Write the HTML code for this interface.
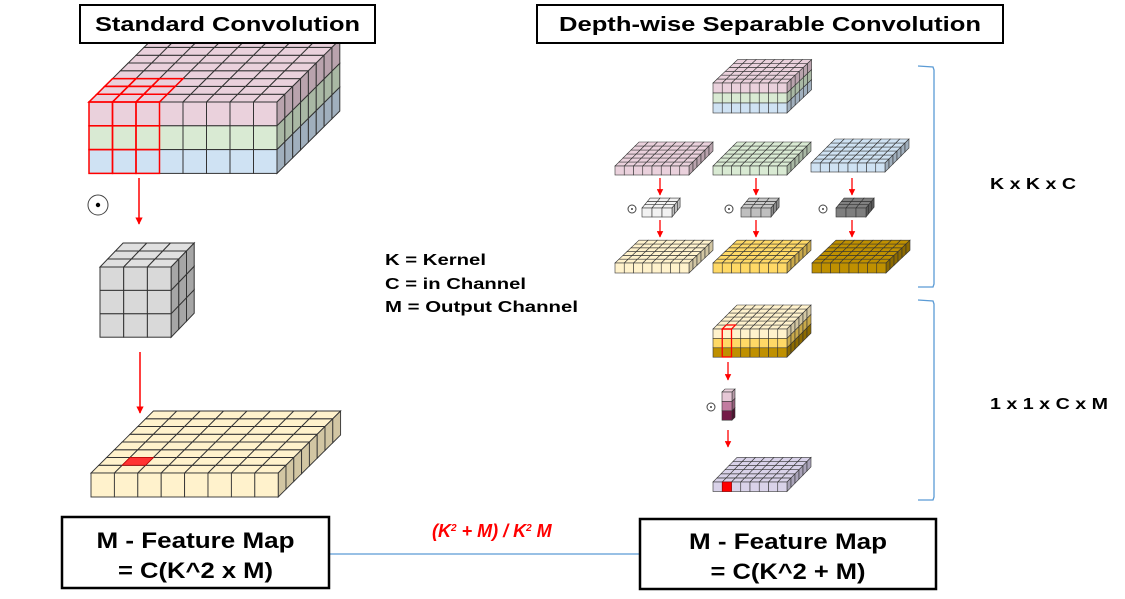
<!DOCTYPE html>
<html><head><meta charset="utf-8"><style>
html,body{margin:0;padding:0;background:#fff;}
svg{display:block;}
</style></head><body>
<svg id="s" width="1125" height="599" xmlns="http://www.w3.org/2000/svg" font-family="Liberation Sans, Arial, sans-serif">
<defs><marker id="ar" viewBox="0 0 10 10" refX="9" refY="5" markerWidth="5" markerHeight="5" orient="auto"><path d="M0,0 L10,5 L0,10 z" fill="#f00"/></marker></defs>
<g id="shapes"></g>
<rect x="80" y="5" width="295" height="38" fill="#fff" stroke="#000" stroke-width="2"/>
<text x="227.5" y="31" font-size="20" font-weight="bold" text-anchor="middle" textLength="265" lengthAdjust="spacingAndGlyphs">Standard Convolution</text>
<rect x="537" y="5" width="466" height="38" fill="#fff" stroke="#000" stroke-width="2"/>
<text x="770" y="31" font-size="20" font-weight="bold" text-anchor="middle" textLength="422" lengthAdjust="spacingAndGlyphs">Depth-wise Separable Convolution</text>
<text x="385" y="265" font-size="16" font-weight="bold" textLength="101" lengthAdjust="spacingAndGlyphs">K = Kernel</text>
<text x="385" y="289" font-size="16" font-weight="bold" textLength="141" lengthAdjust="spacingAndGlyphs">C = in Channel</text>
<text x="385" y="312" font-size="16" font-weight="bold" textLength="193" lengthAdjust="spacingAndGlyphs">M = Output Channel</text>
<path d="M918,66 L933,67 L934,70 L934,284 L933,287 L918,287" fill="none" stroke="#5b9bd5" stroke-width="1.3"/>
<path d="M918,300 L933,301 L934,304 L934,497 L933,500 L918,500" fill="none" stroke="#5b9bd5" stroke-width="1.3"/>
<text x="990" y="189" font-size="16" font-weight="bold" textLength="86" lengthAdjust="spacingAndGlyphs">K x K x C</text>
<text x="990" y="409" font-size="16" font-weight="bold" textLength="118" lengthAdjust="spacingAndGlyphs">1 x 1 x C x M</text>
<line x1="329" y1="554" x2="640" y2="554" stroke="#5b9bd5" stroke-width="1.3"/>
<rect x="62" y="517" width="267" height="71" fill="#fff" stroke="#000" stroke-width="2.5"/>
<text x="195.5" y="548" font-size="22" font-weight="bold" text-anchor="middle" textLength="198" lengthAdjust="spacingAndGlyphs">M - Feature Map</text>
<text x="195.5" y="578" font-size="22" font-weight="bold" text-anchor="middle" textLength="155" lengthAdjust="spacingAndGlyphs">= C(K^2 x M)</text>
<rect x="640" y="519" width="296" height="70" fill="#fff" stroke="#000" stroke-width="2.5"/>
<text x="788" y="549" font-size="22" font-weight="bold" text-anchor="middle" textLength="198" lengthAdjust="spacingAndGlyphs">M - Feature Map</text>
<text x="788" y="579" font-size="22" font-weight="bold" text-anchor="middle" textLength="155" lengthAdjust="spacingAndGlyphs">= C(K^2 + M)</text>
<text x="432" y="537" font-size="18" font-weight="bold" font-style="italic" fill="#f00">(K<tspan font-size="10" dy="-6">2</tspan><tspan dy="6"> + M) / K</tspan><tspan font-size="10" dy="-6">2</tspan><tspan dy="6"> M</tspan></text>
</svg>
<script>
var g=document.getElementById('shapes');var NS='http://www.w3.org/2000/svg';
function el(t,a){var e=document.createElementNS(NS,t);for(var k in a)e.setAttribute(k,a[k]);g.appendChild(e);return e;}
function poly(p,f,s,w){return el('polygon',{points:p.map(function(q){return q[0].toFixed(2)+','+q[1].toFixed(2)}).join(' '),fill:f,stroke:s||'#333','stroke-width':w||0.8});}
function box(x0,y0,cols,rows,depth,cw,ch,dx,dy,front,top,side,sw){
 for(var d=0;d<depth;d++)for(var c=0;c<cols;c++){
  poly([[x0+c*cw+d*dx,y0-d*dy],[x0+(c+1)*cw+d*dx,y0-d*dy],[x0+(c+1)*cw+(d+1)*dx,y0-(d+1)*dy],[x0+c*cw+(d+1)*dx,y0-(d+1)*dy]],top,null,sw);}
 for(var r=0;r<rows;r++)for(var d=0;d<depth;d++){
  var x=x0+cols*cw+d*dx,y=y0+r*ch-d*dy;
  poly([[x,y],[x+dx,y-dy],[x+dx,y-dy+ch],[x,y+ch]],side[r],null,sw);}
 for(var r=0;r<rows;r++)for(var c=0;c<cols;c++){
  el('rect',{x:x0+c*cw,y:y0+r*ch,width:cw,height:ch,fill:front[r],stroke:'#333','stroke-width':sw||0.8});}
}
var P='#ead1dc',Gn='#d9ead3',B='#cfe2f3',Ps='#b9a3ad',Gs='#a9b8a4',Bs='#a0afbd';
var Cr='#fff2cc',Crs='#d2c6a3',Y='#ffd966',Ys='#c9a94a',Au='#bf9000',Aus='#8c6a00';
box(89,102,8,3,8,23.5,23.8,7.85,7.8,[P,Gn,B],P,[Ps,Gs,Bs],1);
for(var d=0;d<3;d++)for(var c=0;c<3;c++){var x0=89,y0=102,cw=23.5,dx=7.85,dy=7.8;
 poly([[x0+c*cw+d*dx,y0-d*dy],[x0+(c+1)*cw+d*dx,y0-d*dy],[x0+(c+1)*cw+(d+1)*dx,y0-(d+1)*dy],[x0+c*cw+(d+1)*dx,y0-(d+1)*dy]],'none','#f00',1.5);}
for(var r=0;r<3;r++)for(var c=0;c<3;c++)el('rect',{x:89+c*23.5,y:102+r*23.8,width:23.5,height:23.8,fill:'none',stroke:'#f00','stroke-width':1.5});
box(100,267,3,3,3,23.7,23.4,7.7,8,['#d9d9d9','#d9d9d9','#d9d9d9'],'#e0e0e0',['#a6a6a6','#a6a6a6','#a6a6a6'],1);
box(91,473,8,1,8,23.4,24,7.8,7.75,[Cr],Cr,[Crs],0.9);
poly([[91+23.4+7.8,473-7.75],[91+46.8+7.8,473-7.75],[91+46.8+15.6,473-15.5],[91+23.4+15.6,473-15.5]],'#f33','#c00',0.8);
el('line',{x1:139,y1:178,x2:139,y2:224,stroke:'#f00','stroke-width':1.5,'marker-end':'url(#ar)'});
el('line',{x1:140,y1:352,x2:140,y2:413,stroke:'#f00','stroke-width':1.5,'marker-end':'url(#ar)'});
function odot(x,y,r){el('circle',{cx:x,cy:y,r:r,fill:'#fff',stroke:'#444','stroke-width':1});el('circle',{cx:x,cy:y,r:r*0.22,fill:'#000'});}
odot(98,205,10);
box(713,83,8,3,6,9.25,10,4.1,3.9,[P,Gn,B],P,[Ps,Gs,Bs],0.6);
box(615,166,8,1,6,9.25,9,4,4,[P],P,[Ps],0.6);
box(713,166,8,1,6,9.25,9,4,4,[Gn],Gn,[Gs],0.6);
box(811,163,8,1,6,9.25,9,4,4,[B],B,[Bs],0.6);
box(642,208,3,1,3,10,9,2.7,3.3,['#f2f2f2'],'#f2f2f2',['#bfbfbf'],0.6);
box(741,208,3,1,3,10,9,2.7,3.3,['#bfbfbf'],'#c8c8c8',['#8c8c8c'],0.6);
box(836,208,3,1,3,10,9,2.7,3.3,['#7f7f7f'],'#808080',['#595959'],0.6);
odot(632,209,4);odot(729,209,4);odot(823,209,4);
box(615,263,8,1,6,9.25,10,4,3.8,[Cr],Cr,[Crs],0.6);
box(713,263,8,1,6,9.25,10,4,3.8,[Y],Y,[Ys],0.6);
box(812,263,8,1,6,9.25,10,4,3.8,[Au],Au,[Aus],0.6);
[660,756,852].forEach(function(x){
 el('line',{x1:x,y1:178,x2:x,y2:195,stroke:'#f00','stroke-width':1.3,'marker-end':'url(#ar)'});
 el('line',{x1:x,y1:220,x2:x,y2:237,stroke:'#f00','stroke-width':1.3,'marker-end':'url(#ar)'});});
box(713,329,8,3,6,9.25,9.4,4,4,[Cr,Y,Au],Cr,[Crs,Ys,Aus],0.6);
el('rect',{x:722.25,y:329,width:9.25,height:28,fill:'none',stroke:'#f00','stroke-width':1.3});
poly([[722.25,329],[731.5,329],[735.5,325],[726.25,325]],'none','#f00',1.2);
el('line',{x1:728,y1:362,x2:728,y2:380,stroke:'#f00','stroke-width':1.3,'marker-end':'url(#ar)'});
box(722,392,1,3,1,10,9.4,3,3,['#e6c7d6','#c27ba0','#741b47'],'#ead1dc',['#b79aa8','#96607c','#4f1230'],0.6);
odot(711,407,4);
el('line',{x1:728,y1:430,x2:728,y2:447,stroke:'#f00','stroke-width':1.3,'marker-end':'url(#ar)'});
box(713,482,8,1,6,9.25,9.5,4,4.1,['#d9d2e9'],'#d9d2e9',['#a9a3b8'],0.6);
el('rect',{x:722.25,y:482,width:9.25,height:9.5,fill:'#f00',stroke:'#900','stroke-width':0.6});
</script>
</body></html>
